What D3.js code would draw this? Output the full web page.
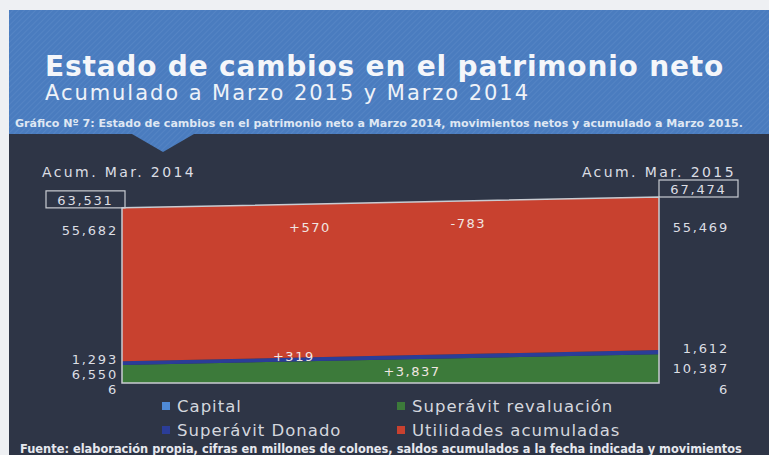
<!DOCTYPE html>
<html>
<head>
<meta charset="utf-8">
<title>Estado de cambios en el patrimonio neto</title>
<style>
  body { margin: 0; background: #eef0f3; }
  svg { display: block; }
  text { font-family: "DejaVu Sans", Lato, sans-serif; }
</style>
</head>
<body>
<div id="chart"></div>
<script src="https://cdn.jsdelivr.net/npm/d3@7"></script>
<script>
// data
var categories = ["Acum. Mar. 2014", "Acum. Mar. 2015"];
var totals = [63531, 67474];
var keys = ["Capital", "Superávit revaluación", "Superávit Donado", "Utilidades acumuladas"];
var capital = [6, 6];
var revaluacion = [6550, 10387];
var donado = [1293, 1612];
var utilidades = [55682, 55469];
var movLabels = ["+570", "-783", "+319", "+3,837"];
var movSeries = ["Utilidades acumuladas", "Utilidades acumuladas", "Superávit Donado", "Superávit revaluación"];
var movAt = [0.35, 0.645, 0.32, 0.54];

var colors = {
  "Capital": "#4f8ad6",
  "Superávit revaluación": "#3c7a3a",
  "Superávit Donado": "#2b3d98",
  "Utilidades acumuladas": "#c8412f"
};

var w = 769, h = 455;
var fmt = d3.format(",");

var svg = d3.select("#chart").append("svg")
  .attr("width", w).attr("height", h);

// stripe pattern for header
var defs = svg.append("defs");
var pat = defs.append("pattern")
  .attr("id", "stripes")
  .attr("width", 4).attr("height", 4)
  .attr("patternUnits", "userSpaceOnUse")
  .attr("patternTransform", "rotate(45)");
pat.append("rect").attr("width", 4).attr("height", 4).attr("fill", "#4a7cbf");
pat.append("line").attr("x1", 0).attr("y1", 0).attr("x2", 0).attr("y2", 4)
  .attr("stroke", "#6b96cf").attr("stroke-width", 1.2).attr("opacity", 0.5);

// background blocks
svg.append("rect").attr("x", 9).attr("y", 10).attr("width", w - 9).attr("height", 125)
  .attr("fill", "url(#stripes)");
svg.append("rect").attr("x", 9).attr("y", 134).attr("width", w - 9).attr("height", h - 134)
  .attr("fill", "#2e3546");
svg.append("path")
  .attr("d", "M132,134 L194,134 L163,152 Z")
  .attr("fill", "url(#stripes)");

// spread letters so a text spans the given width
function spread(sel, width) {
  var cur = sel.node().getComputedTextLength();
  sel.attr("letter-spacing", ((width - cur) / sel.text().length).toFixed(2));
  return sel;
}
// scale font so a text spans the given width
function fit(sel, width) {
  var fs = parseFloat(sel.attr("font-size"));
  var cur = sel.node().getComputedTextLength();
  sel.attr("font-size", (fs * width / cur).toFixed(2));
  return sel;
}

// header texts
spread(svg.append("text").attr("x", 45).attr("y", 76)
  .attr("font-size", 28).attr("font-weight", 700).attr("fill", "#f4f6fa")
  .text("Estado de cambios en el patrimonio neto"), 679);
spread(svg.append("text").attr("x", 45).attr("y", 100)
  .attr("font-size", 21).attr("fill", "#eef2f8")
  .text("Acumulado a Marzo 2015 y Marzo 2014"), 485);
fit(svg.append("text").attr("x", 15).attr("y", 127)
  .attr("font-size", 8).attr("font-weight", 700).attr("fill", "#dfe7f3")
  .text("Gráfico Nº 7: Estado de cambios en el patrimonio neto a Marzo 2014, movimientos netos y acumulado a Marzo 2015."), 728);

// scales
var x = d3.scaleLinear().domain([0, 1]).range([122, 659]);
var y = d3.scaleLinear().domain([0, d3.max(totals)]).range([383, 197]);

var rows = categories.map(function(c, i) {
  return {
    t: i,
    "Capital": capital[i],
    "Superávit revaluación": revaluacion[i],
    "Superávit Donado": donado[i],
    "Utilidades acumuladas": utilidades[i]
  };
});
var stack = d3.stack().keys(keys)(rows);

var area = d3.area()
  .x(function(d) { return x(d.data.t); })
  .y0(function(d) { return y(d[0]); })
  .y1(function(d) { return y(d[1]); });

svg.selectAll(".layer")
  .data(stack)
  .enter()
  .append("path")
  .attr("class", "layer")
  .attr("d", area)
  .attr("fill", function(d) { return colors[d.key]; });

// outline
var outline = d3.area()
  .x(function(d) { return x(d.data.t); })
  .y0(y(0))
  .y1(function(d) { return y(d[1]); });
svg.append("path")
  .attr("d", outline(stack[stack.length - 1]))
  .attr("fill", "none")
  .attr("stroke", "#c9ccd2")
  .attr("stroke-width", 1.5);

// category labels and total boxes
categories.forEach(function(c, i) {
  var left = i === 0;
  svg.append("text")
    .attr("x", left ? 42 : 736)
    .attr("y", 177)
    .attr("text-anchor", left ? "start" : "end")
    .attr("font-size", 14).attr("letter-spacing", 2.4).attr("fill", "#dcdee4")
    .text(c);
  var bx = left ? 46 : x(1);
  var by = y(totals[i]) - 17;
  svg.append("rect")
    .attr("x", bx).attr("y", by).attr("width", 79).attr("height", 17)
    .attr("fill", "none").attr("stroke", "#c9ccd2").attr("stroke-width", 1.2);
  svg.append("text")
    .attr("x", bx + 39.5).attr("y", by + 14)
    .attr("text-anchor", "middle")
    .attr("font-size", 13).attr("letter-spacing", 1.8).attr("fill", "#dcdee4")
    .text(fmt(totals[i]));
});

// end value labels
stack.forEach(function(s) {
  s.forEach(function(d, i) {
    var yy;
    if (s.key === "Utilidades acumuladas") yy = y(d[1]) + (i === 0 ? 23 : 30);
    else if (s.key === "Capital") yy = y(d[0]) + 6;
    else if (s.key === "Superávit Donado") yy = (y(d[0]) + y(d[1])) / 2 - 4;
    else yy = (y(d[0]) + y(d[1])) / 2;
    svg.append("text")
      .attr("x", i === 0 ? 118 : 729)
      .attr("y", yy)
      .attr("dy", "0.35em")
      .attr("text-anchor", "end")
      .attr("font-size", 13).attr("letter-spacing", 1.8).attr("fill", "#dcdee4")
      .text(fmt(d.data[s.key]));
  });
});

// movement labels
movLabels.forEach(function(m, j) {
  var s = stack[keys.indexOf(movSeries[j])];
  var t = movAt[j];
  var lo = s[0][0] + t * (s[1][0] - s[0][0]);
  var hi = s[0][1] + t * (s[1][1] - s[0][1]);
  var yy;
  if (movSeries[j] === "Utilidades acumuladas") yy = y(hi) + 23;
  else if (movSeries[j] === "Superávit Donado") yy = (y(lo) + y(hi)) / 2 - 3;
  else yy = (y(lo) + y(hi)) / 2;
  svg.append("text")
    .attr("x", x(t)).attr("y", yy).attr("dy", "0.35em")
    .attr("text-anchor", "middle")
    .attr("font-size", 13).attr("letter-spacing", 1.5).attr("fill", "#f1e6e2")
    .text(m);
});

// legend
var leg = svg.selectAll(".leg")
  .data(keys)
  .enter()
  .append("g")
  .attr("class", "leg")
  .attr("transform", function(d, i) {
    return "translate(" + (i % 2 === 0 ? 162 : 397) + "," + (i < 2 ? 406 : 430) + ")";
  });
leg.append("rect").attr("x", 0).attr("y", -4).attr("width", 8).attr("height", 8)
  .attr("fill", function(d) { return colors[d]; });
leg.append("text").attr("x", 15).attr("dy", "0.35em")
  .attr("font-size", 16.5).attr("letter-spacing", 1).attr("fill", "#d4d7de")
  .text(function(d) { return d; });

// footer
fit(svg.append("text").attr("x", 20).attr("y", 453)
  .attr("font-size", 9).attr("font-weight", 700).attr("fill", "#e6e8ee")
  .text("Fuente: elaboración propia, cifras en millones de colones, saldos acumulados a la fecha indicada y movimientos"), 722);
</script>
</body>
</html>
